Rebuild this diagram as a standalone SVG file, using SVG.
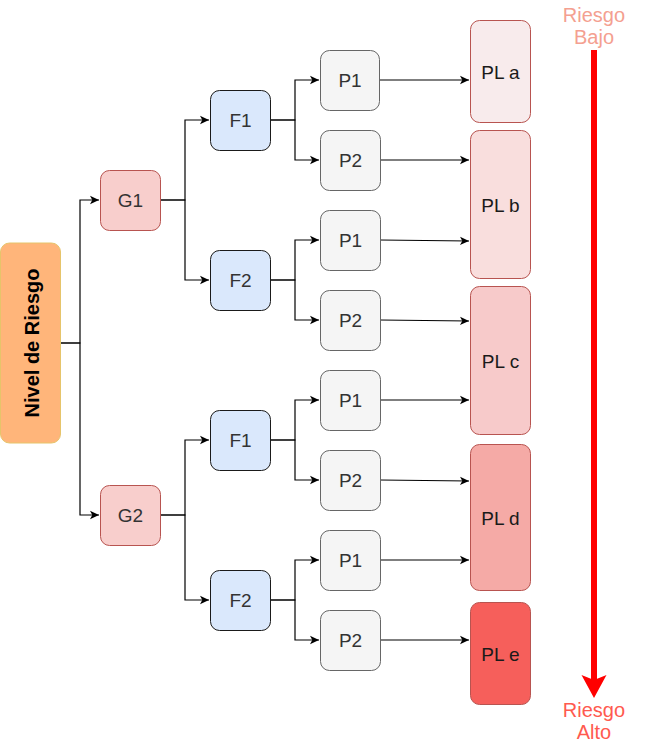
<svg xmlns="http://www.w3.org/2000/svg" width="645" height="745" viewBox="0 0 645 745">
<style>
  .lbl { font-family: "Liberation Sans", Arial, sans-serif; font-size: 19px; fill: #333333; text-anchor: middle; dominant-baseline: central; }
  .pl { font-family: "Liberation Sans", Arial, sans-serif; font-size: 19px; fill: #1a1a1a; text-anchor: middle; dominant-baseline: central; }
  .g { fill: #f8cecc; stroke: #b85450; stroke-width: 1; }
  .f { fill: #dae8fc; stroke: #1a1a1a; stroke-width: 1; }
  .p { fill: #f5f5f5; stroke: #666666; stroke-width: 1; }
  .plr { stroke: #b85450; stroke-width: 1; }
  .edge { fill: none; stroke: #000000; stroke-width: 1.2; }
  .risk { font-family: "Liberation Sans", Arial, sans-serif; font-size: 20px; text-anchor: middle; }
</style>
<defs>
  <marker id="arr" markerWidth="12" markerHeight="12" refX="10" refY="6" orient="auto" markerUnits="userSpaceOnUse">
    <path d="M1,1.8 L10,6 L1,10.2 L3.3,6 Z" fill="#000000"/>
  </marker>
</defs>

<g id="connectors">
  <path class="edge" d="M60,343 H80 V200 H99" marker-end="url(#arr)"/>
  <path class="edge" d="M60,343 H80 V515 H99" marker-end="url(#arr)"/>
  <path class="edge" d="M160,200 H185 V120 H209" marker-end="url(#arr)"/>
  <path class="edge" d="M160,200 H185 V280 H209" marker-end="url(#arr)"/>
  <path class="edge" d="M160,515 H185 V440 H209" marker-end="url(#arr)"/>
  <path class="edge" d="M160,515 H185 V600 H209" marker-end="url(#arr)"/>
  <path class="edge" d="M270,120 H295 V80 H319" marker-end="url(#arr)"/>
  <path class="edge" d="M270,120 H295 V160 H319" marker-end="url(#arr)"/>
  <path class="edge" d="M270,280 H295 V240 H319" marker-end="url(#arr)"/>
  <path class="edge" d="M270,280 H295 V320 H319" marker-end="url(#arr)"/>
  <path class="edge" d="M270,440 H295 V400 H319" marker-end="url(#arr)"/>
  <path class="edge" d="M270,440 H295 V480 H319" marker-end="url(#arr)"/>
  <path class="edge" d="M270,600 H295 V560 H319" marker-end="url(#arr)"/>
  <path class="edge" d="M270,600 H295 V640 H319" marker-end="url(#arr)"/>
  <path class="edge" d="M380,80 H469" marker-end="url(#arr)"/>
  <path class="edge" d="M380,160 H469" marker-end="url(#arr)"/>
  <path class="edge" d="M380,240 L469,241" marker-end="url(#arr)"/>
  <path class="edge" d="M380,320 L469,321" marker-end="url(#arr)"/>
  <path class="edge" d="M380,400 H469" marker-end="url(#arr)"/>
  <path class="edge" d="M380,480 L469,481" marker-end="url(#arr)"/>
  <path class="edge" d="M380,560 H469" marker-end="url(#arr)"/>
  <path class="edge" d="M380,640 H469" marker-end="url(#arr)"/>
</g>

<g id="nivel">
  <rect x="0.5" y="243" width="60" height="200" rx="9" fill="#ffb57a" stroke="#e6c46a" stroke-width="1"/>
  <text transform="translate(32,343) rotate(-90)" font-family="'Liberation Sans', Arial, sans-serif" font-size="20" font-weight="bold" fill="#000000" text-anchor="middle" dominant-baseline="central">Nivel de Riesgo</text>
</g>

<g id="g1"><rect class="g" x="100.5" y="170.5" width="60" height="60" rx="9"/><text class="lbl" x="130.5" y="200.5">G1</text></g>
<g id="g2"><rect class="g" x="100.5" y="485.5" width="60" height="60" rx="9"/><text class="lbl" x="130.5" y="515.5">G2</text></g>

<g id="f1a"><rect class="f" x="210.5" y="90.5" width="60" height="60" rx="9"/><text class="lbl" x="240.5" y="120.5">F1</text></g>
<g id="f2a"><rect class="f" x="210.5" y="250.5" width="60" height="60" rx="9"/><text class="lbl" x="240.5" y="280.5">F2</text></g>
<g id="f1b"><rect class="f" x="210.5" y="410.5" width="60" height="60" rx="9"/><text class="lbl" x="240.5" y="440.5">F1</text></g>
<g id="f2b"><rect class="f" x="210.5" y="570.5" width="60" height="60" rx="9"/><text class="lbl" x="240.5" y="600.5">F2</text></g>

<g id="p1a"><rect class="p" x="320.5" y="50.5" width="59" height="60" rx="9"/><text class="lbl" x="350" y="80.5">P1</text></g>
<g id="p2a"><rect class="p" x="320.5" y="130.5" width="60" height="60" rx="9"/><text class="lbl" x="350.5" y="160.5">P2</text></g>
<g id="p1b"><rect class="p" x="320.5" y="210.5" width="60" height="60" rx="9"/><text class="lbl" x="350.5" y="240.5">P1</text></g>
<g id="p2b"><rect class="p" x="320.5" y="290.5" width="60" height="60" rx="9"/><text class="lbl" x="350.5" y="320.5">P2</text></g>
<g id="p1c"><rect class="p" x="320.5" y="370.5" width="60" height="60" rx="9"/><text class="lbl" x="350.5" y="400.5">P1</text></g>
<g id="p2c"><rect class="p" x="320.5" y="450.5" width="60" height="60" rx="9"/><text class="lbl" x="350.5" y="480.5">P2</text></g>
<g id="p1d"><rect class="p" x="320.5" y="530.5" width="60" height="60" rx="9"/><text class="lbl" x="350.5" y="560.5">P1</text></g>
<g id="p2d"><rect class="p" x="320.5" y="610.5" width="60" height="60" rx="9"/><text class="lbl" x="350.5" y="640.5">P2</text></g>

<g id="pla"><rect class="plr" x="470.5" y="20.5" width="60" height="102" rx="9" fill="#f8ebec"/><text class="pl" x="500.5" y="72">PL a</text></g>
<g id="plb"><rect class="plr" x="470.5" y="130.5" width="60" height="148" rx="9" fill="#f9dedd"/><text class="pl" x="500.5" y="205">PL b</text></g>
<g id="plc"><rect class="plr" x="470.5" y="286.5" width="60" height="148" rx="9" fill="#f7caca"/><text class="pl" x="500.5" y="361">PL c</text></g>
<g id="pld"><rect class="plr" x="470.5" y="444.5" width="60" height="146" rx="9" fill="#f5aaa6"/><text class="pl" x="500.5" y="518">PL d</text></g>
<g id="ple"><rect class="plr" x="470.5" y="602.5" width="60" height="102" rx="9" fill="#f65f5b"/><text class="pl" x="500.5" y="654">PL e</text></g>

<g id="risk-scale">
  <line x1="594" y1="50" x2="594" y2="680" stroke="#ff0000" stroke-width="6"/>
  <polygon points="581.5,675 594,680 606.5,675 594,698" fill="#ff0000"/>
  <text class="risk" x="594" y="22" fill="#f4a090">Riesgo</text>
  <text class="risk" x="594" y="44" fill="#f4a090">Bajo</text>
  <text class="risk" x="594" y="717" fill="#ff5a4f">Riesgo</text>
  <text class="risk" x="594" y="739" fill="#ff5a4f">Alto</text>
</g>
</svg>
